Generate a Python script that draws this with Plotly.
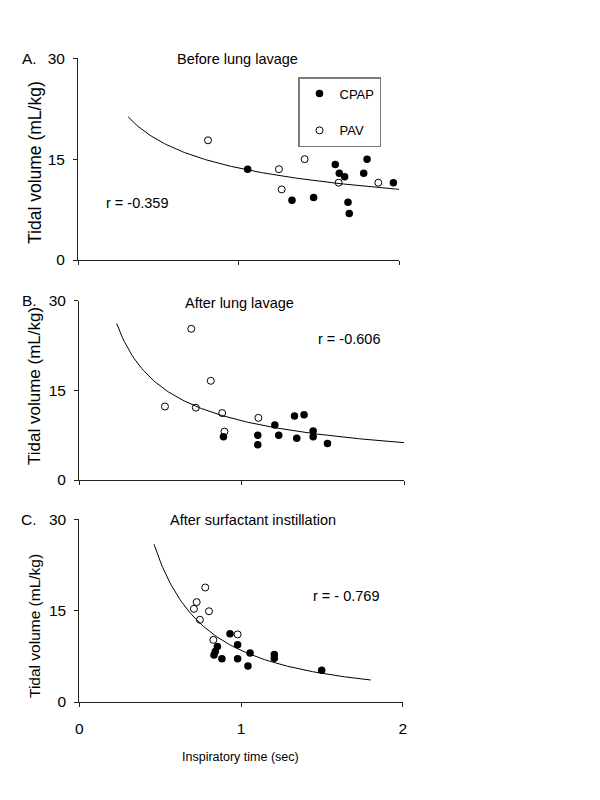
import numpy as np
import plotly.graph_objects as go

# ---------------- data ----------------
# Panel A: before lung lavage
a_cpap_x = [1.057, 1.333, 1.468, 1.603, 1.628, 1.661, 1.682, 1.690, 1.780, 1.801, 1.965]
a_cpap_y = [13.5, 8.9, 9.3, 14.2, 12.9, 12.4, 8.6, 6.9, 12.9, 15.0, 11.5]
a_pav_x = [0.810, 1.252, 1.269, 1.412, 1.624, 1.871]
a_pav_y = [17.8, 13.5, 10.5, 15.0, 11.5, 11.5]
a_fit = dict(a=13.68, b=-0.380, xmin=0.312, xmax=2.0)
a_r = "r = -0.359"

# Panel B: after lung lavage
b_cpap_x = [0.889, 1.100, 1.100, 1.205, 1.229, 1.326, 1.340, 1.385, 1.441, 1.441, 1.529]
b_cpap_y = [7.25, 7.5, 5.9, 9.2, 7.5, 10.7, 7.0, 10.9, 8.2, 7.25, 6.1]
b_pav_x = [0.529, 0.691, 0.719, 0.811, 0.881, 0.895, 1.104]
b_pav_y = [12.3, 25.3, 12.1, 16.6, 11.2, 8.1, 10.4]
b_fit = dict(a=9.91, b=-0.665, xmin=0.232, xmax=2.0)
b_r = "r = -0.606"

# Panel C: after surfactant instillation
c_cpap_x = [0.932, 0.979, 0.854, 0.841, 0.833, 0.882, 0.979, 1.056, 1.043, 1.206, 1.206, 1.499]
c_cpap_y = [11.2, 9.4, 9.1, 8.3, 7.7, 7.1, 7.1, 8.05, 5.9, 7.8, 7.2, 5.2]
c_pav_x = [0.779, 0.726, 0.709, 0.802, 0.746, 0.829, 0.979]
c_pav_y = [18.8, 16.4, 15.3, 14.9, 13.5, 10.2, 11.1]
c_fit = dict(a=8.47, b=-1.448, xmin=0.462, xmax=1.802)
c_r = "r = - 0.769"

panel_letters = ["A.", "B.", "C."]
panel_titles = ["Before lung lavage", "After lung lavage", "After surfactant instillation"]
y_ticks = [0, 15, 30]
x_ticks = [0, 1, 2]
y_title = "Tidal volume (mL/kg)"
x_title = "Inspiratory time (sec)"
series_names = ["CPAP", "PAV"]

# ---------------- figure ----------------
W, H = 600, 800
FONT = "Arial, Liberation Sans, sans-serif"


def px(x):
    return x / W


def py(y):
    return 1 - y / H


panels = [
    dict(cx=a_cpap_x, cy=a_cpap_y, px_=a_pav_x, py_=a_pav_y, fit=a_fit, r=a_r,
         xdom=(78, 399), ydom=(58.3, 260), rpos=(0.37, 8.5), legend=True,
         ytitle=(35, 163, 17.5)),
    dict(cx=b_cpap_x, cy=b_cpap_y, px_=b_pav_x, py_=b_pav_y, fit=b_fit, r=b_r,
         xdom=(79, 404), ydom=(300.7, 480), rpos=(1.66, 23.6), legend=False,
         ytitle=(35, 386, 17)),
    dict(cx=c_cpap_x, cy=c_cpap_y, px_=c_pav_x, py_=c_pav_y, fit=c_fit, r=c_r,
         xdom=(79.3, 402.7), ydom=(519.3, 702), rpos=(1.65, 17.4), legend=False,
         ytitle=(34, 626, 15.5)),
]

fig = go.Figure()
layout = dict(
    width=W, height=H,
    margin=dict(l=0, r=0, t=0, b=0),
    paper_bgcolor="white", plot_bgcolor="white",
    font=dict(family=FONT, color="black"),
    showlegend=True,
    legend=dict(
        x=px(298), y=py(77), xanchor="left", yanchor="top",
        bordercolor="#7a7a7a", borderwidth=1.5, bgcolor="white",
        font=dict(size=13, family=FONT), tracegroupgap=17,
        traceorder="grouped",
    ),
)
annotations = []

for i, p in enumerate(panels):
    n = "" if i == 0 else str(i + 1)
    xa, ya = "x" + n, "y" + n
    f = p["fit"]
    xs = np.linspace(f["xmin"], f["xmax"], 150)
    fig.add_trace(go.Scatter(
        x=xs, y=f["a"] * xs ** f["b"], mode="lines",
        line=dict(color="black", width=1), showlegend=False,
        hoverinfo="skip", xaxis=xa, yaxis=ya))
    fig.add_trace(go.Scatter(
        x=p["px_"], y=p["py_"], mode="markers", name=series_names[1],
        marker=dict(symbol="circle-open", size=7, color="black",
                    line=dict(width=1, color="black")),
        showlegend=p["legend"], legendgroup="pav", legendrank=2,
        xaxis=xa, yaxis=ya))
    fig.add_trace(go.Scatter(
        x=p["cx"], y=p["cy"], mode="markers", name=series_names[0],
        marker=dict(symbol="circle", size=7.5, color="black"),
        showlegend=p["legend"], legendgroup="cpap", legendrank=1,
        xaxis=xa, yaxis=ya))

    common = dict(showgrid=False, zeroline=False, showline=True,
                  linecolor="#222", linewidth=1, ticks="outside",
                  ticklen=4, tickcolor="#222", tickwidth=1,
                  automargin=False, fixedrange=True)
    layout["xaxis" + n] = dict(
        common, domain=[px(p["xdom"][0]), px(p["xdom"][1])], range=[0, 2],
        tickvals=x_ticks, showticklabels=(i == 2),
        tickfont=dict(size=15.5, family=FONT), ticklabelstandoff=8,
        anchor=ya)
    layout["yaxis" + n] = dict(
        common, domain=[py(p["ydom"][1]), py(p["ydom"][0])], range=[0, 30],
        tickvals=y_ticks, tickfont=dict(size=15.5, family=FONT),
        ticklabelstandoff=5, anchor=xa)

    # r value
    annotations.append(dict(
        x=p["rpos"][0], y=p["rpos"][1], xref=xa, yref=ya, text=p["r"],
        showarrow=False, font=dict(size=14.5, family=FONT)))
    # panel title
    tx = [237, 239, 253][i]
    ty = [59.5, 303, 520][i]
    annotations.append(dict(
        x=px(tx), y=py(ty), xref="paper", yref="paper", text=panel_titles[i],
        showarrow=False, font=dict(size=14.5, family=FONT),
        xanchor="center", yanchor="middle"))
    # panel letter
    annotations.append(dict(
        x=px(29), y=py(p["ydom"][0]), xref="paper", yref="paper",
        text=panel_letters[i], showarrow=False,
        font=dict(size=15.5, family=FONT), xanchor="center", yanchor="middle"))
    # y-axis title
    yt = p["ytitle"]
    annotations.append(dict(
        x=px(yt[0]), y=py(yt[1]), xref="paper", yref="paper", text=y_title,
        textangle=-90, showarrow=False, font=dict(size=yt[2], family=FONT),
        xanchor="center", yanchor="middle"))

annotations.append(dict(
    x=px(240), y=py(757), xref="paper", yref="paper", text=x_title,
    showarrow=False, font=dict(size=12.5, family=FONT),
    xanchor="center", yanchor="middle"))

layout["annotations"] = annotations
fig.update_layout(**layout)
fig.write_html("out.html",
               config={"displayModeBar": False},
               post_script="document.body.style.margin='0';")
